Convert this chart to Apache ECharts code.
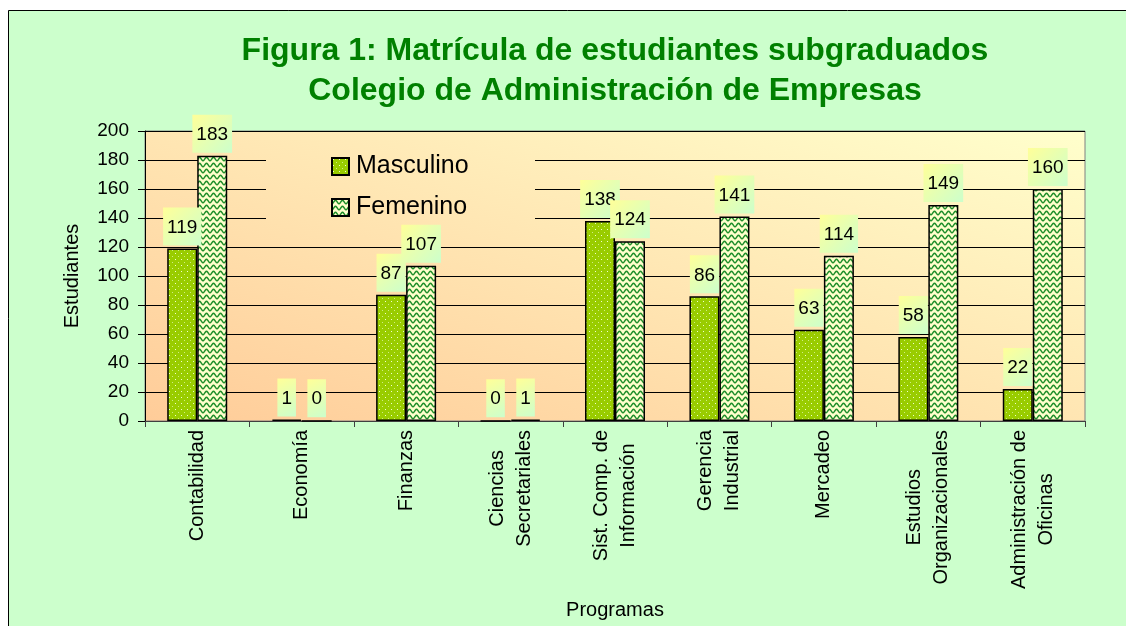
<!DOCTYPE html>
<html lang="es">
<head>
<meta charset="UTF-8">
<title>Matrícula de estudiantes subgraduados</title>
<script src="https://cdn.jsdelivr.net/npm/echarts@6/dist/echarts.min.js"></script>
<style>
  html, body { margin: 0; padding: 0; background: #fff; }
  #chart { width: 1126px; height: 626px; }
</style>
</head>
<body>
<div id="chart"></div>
<script>
// datos
var programas = ['Contabilidad', 'Economía', 'Finanzas', 'Ciencias\nSecretariales',
  'Sist. Comp. de\nInformación', 'Gerencia\nIndustrial', 'Mercadeo',
  'Estudios\nOrganizacionales', 'Administración de\nOficinas'];
var masculino = [119, 1, 87, 0, 138, 86, 63, 58, 22];
var femenino = [183, 0, 107, 1, 124, 141, 114, 149, 160];
var ejeY = { min: 0, max: 200, interval: 20 };

var fuente = 'Arial, "Liberation Sans", sans-serif';

// area del grafico en pixeles
var gx0 = 145, gx1 = 1085, gy0 = 131, gy1 = 421;

// patron de puntos (Masculino)
function patronPuntos() {
  var c = document.createElement('canvas');
  c.width = 6; c.height = 6;
  var g = c.getContext('2d');
  g.fillStyle = '#99CC00';
  g.fillRect(0, 0, 6, 6);
  g.fillStyle = '#F0FFD0';
  g.fillRect(1, 1, 1, 1);
  g.fillStyle = '#D0EE80';
  g.fillRect(4, 4, 1, 1);
  return c;
}

// patron de ondas (Femenino)
function patronOndas() {
  var c = document.createElement('canvas');
  c.width = 7; c.height = 6;
  var g = c.getContext('2d');
  g.fillStyle = '#FFFFCC';
  g.fillRect(0, 0, 7, 6);
  g.strokeStyle = '#1E8E2A';
  g.lineWidth = 1.5;
  g.beginPath();
  for (var x = -0.5; x <= 7.5; x += 0.5) {
    var y = 3 + 1.7 * Math.cos(2 * Math.PI * x / 7);
    if (x === -0.5) g.moveTo(x, y); else g.lineTo(x, y);
  }
  g.stroke();
  return c;
}

// degradado diagonal del fondo (esquina inf. izq. -> sup. der.)
function fondoDegradado() {
  var w = gx1 - gx0, h = gy1 - gy0;
  var k = 2 / (1 / (w * w) + 1 / (h * h));
  return new echarts.graphic.LinearGradient(gx0, gy1, gx0 + k / w, gy1 - k / h, [
    { offset: 0, color: '#FFCC99' },
    { offset: 1, color: '#FFFFCC' }
  ], true);
}

function etiqueta() {
  return {
    show: true,
    position: 'top',
    distance: 3,
    fontFamily: fuente,
    fontSize: 19,
    lineHeight: 20,
    color: '#000',
    backgroundColor: new echarts.graphic.LinearGradient(0, 0, 1, 1, [
      { offset: 0, color: '#FFFF99' },
      { offset: 1, color: '#CCFFCC' }
    ]),
    padding: [10, 4, 8, 4]
  };
}

var myChart = echarts.init(document.getElementById('chart'));
myChart.setOption({
  backgroundColor: '#fff',
  animation: false,
  textStyle: { fontFamily: fuente },
  graphic: [
    { // marco verde
      type: 'rect', z: -1, silent: true,
      shape: { x: 8.5, y: 10.5, width: 1200, height: 700 },
      style: { fill: '#CCFFCC', stroke: '#000', lineWidth: 1 }
    },
    { // fondo de la leyenda, tapa las lineas
      type: 'rect', z: 1, silent: true,
      shape: { x: 266, y: 146, width: 269, height: 88 },
      style: { fill: fondoDegradado() }
    }
  ],
  title: {
    text: 'Figura 1: Matrícula de estudiantes subgraduados\nColegio de Administración de Empresas',
    left: 615,
    top: 31,
    padding: 0,
    textAlign: 'center',
    textStyle: {
      fontFamily: fuente,
      fontSize: 32,
      fontWeight: 'bold',
      color: '#008000',
      lineHeight: 40
    }
  },
  legend: {
    orient: 'vertical',
    left: 331,
    top: 154,
    padding: 0,
    itemWidth: 17,
    itemHeight: 17,
    itemGap: 16,
    icon: 'rect',
    textStyle: { fontFamily: fuente, fontSize: 25, color: '#000', padding: [0, 0, 0, 2] },
    data: ['Masculino', 'Femenino']
  },
  grid: {
    left: gx0,
    right: 1126 - gx1,
    top: gy0,
    bottom: 626 - gy1,
    show: true,
    backgroundColor: fondoDegradado(),
    borderColor: '#808080',
    borderWidth: 1
  },
  xAxis: {
    type: 'category',
    data: programas,
    name: 'Programas',
    nameLocation: 'middle',
    nameGap: 179,
    nameTextStyle: { fontFamily: fuente, fontSize: 20, color: '#000' },
    axisLine: { lineStyle: { color: '#404040', width: 1 } },
    axisTick: { show: true, length: 6, lineStyle: { color: '#404040' } },
    axisLabel: {
      rotate: 90,
      margin: 9,
      interval: 0,
      color: '#000',
      formatter: function (v) {
        return v.split('\n').map(function (s) { return '{c|' + s + '}'; }).join('\n');
      },
      rich: {
        c: { align: 'center', fontFamily: fuente, fontSize: 20, lineHeight: 27, color: '#000' }
      }
    }
  },
  yAxis: {
    type: 'value',
    min: ejeY.min,
    max: ejeY.max,
    interval: ejeY.interval,
    name: 'Estudiantes',
    nameLocation: 'middle',
    nameRotate: 90,
    nameGap: 63,
    nameTextStyle: { fontFamily: fuente, fontSize: 20, color: '#000' },
    axisLine: { show: true, lineStyle: { color: '#000', width: 1 } },
    axisTick: { show: true, length: 7, lineStyle: { color: '#000' } },
    axisLabel: { margin: 16, fontFamily: fuente, fontSize: 19, color: '#000' },
    splitLine: { show: true, lineStyle: { color: '#000', width: 1 } }
  },
  series: [
    {
      name: 'Masculino',
      type: 'bar',
      data: masculino,
      barWidth: 30,
      barGap: '0%',
      itemStyle: {
        color: { image: patronPuntos(), repeat: 'repeat' },
        borderColor: '#000',
        borderWidth: 1.5
      },
      label: etiqueta()
    },
    {
      name: 'Femenino',
      type: 'bar',
      data: femenino,
      barWidth: 30,
      barGap: '0%',
      itemStyle: {
        color: { image: patronOndas(), repeat: 'repeat' },
        borderColor: '#000',
        borderWidth: 1.5
      },
      label: etiqueta()
    }
  ]
});
</script>
</body>
</html>
